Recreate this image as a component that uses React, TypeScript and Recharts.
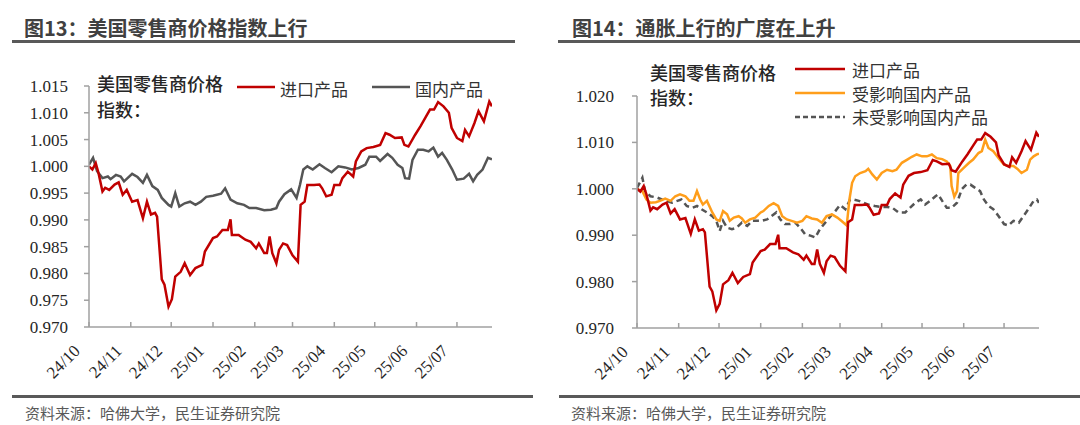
import { LineChart, Line, XAxis, YAxis } from 'recharts';

// x values are days counted from 2024-10-01
const monthTicks = [0, 31, 61, 92, 123, 151, 182, 212, 243, 273];
const monthLabels = ['24/10', '24/11', '24/12', '25/01', '25/02', '25/03', '25/04', '25/05', '25/06', '25/07'];

const leftTicks = [0.97, 0.975, 0.98, 0.985, 0.99, 0.995, 1.0, 1.005, 1.01, 1.015];
const rightTicks = [0.97, 0.98, 0.99, 1.0, 1.01, 1.02];

// 进口产品
const importedDays = [
  0, 2.5, 5, 7, 10, 12, 15, 19, 22, 25, 28, 32, 36, 40, 43, 46, 49, 50.5, 54, 56,
  59, 61.5, 64, 68, 71, 75, 79, 84, 86, 92, 95, 99, 103, 105, 106, 111, 116, 120, 124, 126,
  130, 132, 134, 136, 139, 141, 144, 147, 151, 155, 157, 160, 162, 167, 171, 173, 176, 180, 182, 186,
  188, 192, 196, 198, 202, 206, 211, 216, 220, 223, 227, 232, 234, 237, 242, 246, 250, 253, 256, 259,
  263, 267, 269, 273, 277, 279, 282, 286, 289, 293, 297, 299,
];
const importedValues = [
  1.0, 0.9994, 1.0006, 0.9988, 0.9953, 0.996, 0.9956, 0.9966, 0.997, 0.9947,
  0.9956, 0.9934, 0.9937, 0.9903, 0.9934, 0.991, 0.9913, 0.9906, 0.9789, 0.9779,
  0.9738, 0.9752, 0.9794, 0.9803, 0.9819, 0.9797, 0.981, 0.9816, 0.9841, 0.9866,
  0.9869, 0.9881, 0.9881, 0.9901, 0.9872, 0.9872, 0.9863, 0.9859, 0.9847, 0.9856,
  0.9838, 0.9838, 0.9869, 0.9838, 0.9819, 0.9844, 0.9856, 0.9853, 0.9834, 0.9822,
  0.9928, 0.9934, 0.9965, 0.9965, 0.9966, 0.9959, 0.9944, 0.9947, 0.9965, 0.9965,
  0.9978, 0.999, 0.9981, 1.0009, 1.0028, 1.0034, 1.0036, 1.004, 1.0062, 1.0059,
  1.0053, 1.0054, 1.004, 1.0037, 1.0059, 1.0075, 1.0093, 1.0106, 1.0106, 1.012,
  1.0112, 1.01, 1.0072, 1.0053, 1.0047, 1.0068, 1.0056, 1.0081, 1.0103, 1.0084,
  1.0121, 1.0112,
];

// 国内产品
const domesticDays = [
  0, 3, 6, 10, 14, 16, 20, 23.5, 26, 32, 36, 40, 43, 47, 51, 54, 59, 61, 64, 67,
  71, 75, 79, 83, 87, 92, 98, 101, 105, 110, 115, 119, 124, 130, 135, 139, 141, 145, 150, 154,
  156.5, 159, 162, 166, 171, 175, 180, 185, 190, 195, 200, 205, 208, 213, 216, 221.5, 225, 229, 232.5, 234.5,
  237.5, 240, 244, 248, 252, 255.5, 259, 262, 265.5, 269.5, 273, 278, 282, 285, 288, 292, 296, 299,
];
const domesticValues = [
  1.0003, 1.0016, 0.9991, 0.9978, 0.9981, 0.9976, 0.9984, 0.9981, 0.9972, 0.9986,
  0.998, 0.9969, 0.9984, 0.9963, 0.9956, 0.9941, 0.9928, 0.9925, 0.995, 0.9925,
  0.9931, 0.9934, 0.9928, 0.9934, 0.9943, 0.9945, 0.9949, 0.9959, 0.9938, 0.9931,
  0.9928, 0.9922, 0.9922, 0.9918, 0.9919, 0.9922, 0.9934, 0.9948, 0.9957, 0.9941,
  0.9965, 0.9994, 1.0, 0.9994, 1.0004, 0.9997, 0.9989, 1.0, 0.9998, 0.9994,
  0.9997, 1.0003, 1.0018, 1.0018, 1.001, 1.0023, 1.0016, 1.0003, 0.9997, 0.9978,
  0.9977, 1.0012, 1.0031, 1.0031, 1.0028, 1.0035, 1.0018, 1.0025, 1.0012, 0.9994,
  0.9975, 0.9977, 0.9986, 0.9972, 0.9984, 0.9994, 1.0016, 1.0013,
];

// 受影响国内产品
const affectedDays = [
  0, 4, 7, 10, 14, 17, 21, 25, 28.5, 32, 36, 39, 42, 44.6, 47, 49, 52, 56, 59, 61.5,
  64, 67, 69, 72, 75.6, 78, 80.5, 84, 88, 92, 94, 98, 101.6, 105, 108, 111.5, 115, 119, 123, 126,
  130, 134, 137.5, 141, 145, 149, 152.4, 156, 158, 160, 162.3, 166, 170, 172, 175, 178.4, 182, 186, 190, 193,
  197, 201, 204.4, 208, 212, 215.6, 219.3, 223, 227, 230.4, 233, 234, 236, 238, 239, 243, 247, 250, 254, 256.5,
  259, 261.4, 265, 269, 273, 276.3, 280, 283, 286, 290, 292.4, 295, 297.4, 299,
];
const affectedValues = [
  0.9999, 0.9995, 0.9977, 0.997, 0.9971, 0.9974, 0.9979, 0.9974, 0.9984, 0.9988,
  0.9984, 0.9974, 0.9974, 0.9995, 0.9977, 0.9966, 0.9974, 0.9949, 0.9934, 0.9931,
  0.9952, 0.9945, 0.9931, 0.9938, 0.9941, 0.9936, 0.9927, 0.9934, 0.9938, 0.9949,
  0.9952, 0.9963, 0.9969, 0.9963, 0.9941, 0.9934, 0.9931, 0.9927, 0.9931, 0.9941,
  0.9936, 0.9934, 0.9927, 0.9941, 0.9945, 0.9938, 0.993, 0.9921, 0.9977, 1.0013,
  1.0027, 1.0034, 1.0038, 1.0043, 1.0031, 1.002, 1.0034, 1.0041, 1.0038, 1.0041,
  1.0056, 1.0063, 1.0069, 1.0074, 1.007, 1.007, 1.0074, 1.0066, 1.0064, 1.0059,
  1.0049, 1.0006, 0.9983, 0.9995, 1.0034, 1.0045, 1.0056, 1.0063, 1.0077, 1.0081,
  1.0106, 1.0088, 1.0081, 1.0066, 1.0052, 1.0049, 1.0049, 1.0043, 1.0034, 1.0041,
  1.0063, 1.007, 1.0074, 1.0076,
];

// 未受影响国内产品
const unaffectedDays = [
  0, 4, 6, 10, 15, 18.5, 22, 26, 30, 33, 37, 41, 44.6, 48, 52, 56, 59, 61.5, 64, 67,
  70.6, 74, 78, 82, 85.5, 89, 93, 96.7, 100, 103.6, 106.6, 110, 114, 117.7, 121.4, 125, 129, 132.6, 136, 140,
  144, 147.5, 151, 155, 158.5, 161, 165, 168.5, 172, 177, 181, 186, 190, 194.5, 199.5, 203, 207, 211, 214.3, 218,
  222, 224, 227, 230.4, 234, 238, 241.6, 245, 248, 251.5, 255.2, 258, 261.4, 265, 269, 273, 276.3, 280, 284, 287.4,
  291, 295, 297.4, 299,
];
const unaffectedValues = [
  1.0002, 1.0024, 0.9995, 0.9984, 0.9981, 0.9977, 0.9974, 0.997, 0.9974, 0.9977,
  0.9963, 0.9959, 0.9963, 0.9956, 0.9949, 0.9941, 0.9931, 0.9909, 0.9931, 0.9916,
  0.9913, 0.9916, 0.9927, 0.992, 0.9931, 0.9931, 0.9931, 0.9934, 0.9941, 0.9949,
  0.9934, 0.9924, 0.9924, 0.9927, 0.9916, 0.9902, 0.9899, 0.9895, 0.9913, 0.9927,
  0.9941, 0.9952, 0.9965, 0.9956, 0.9977, 0.9977, 0.9974, 0.997, 0.9966, 0.9963,
  0.9961, 0.9961, 0.9959, 0.9949, 0.9949, 0.9959, 0.997, 0.9977, 0.9966, 0.9974,
  0.9984, 0.9988, 0.9974, 0.9959, 0.9959, 0.997, 0.9999, 1.0009, 1.0009, 1.0002,
  0.9995, 0.9977, 0.9963, 0.9956, 0.9941, 0.9924, 0.9921, 0.9931, 0.9927, 0.9941,
  0.9956, 0.9974, 0.9977, 0.997,
];

const toPoints = (days: number[], values: number[]) =>
  days.map((x, i) => ({ x, y: values[i] }));

const RED = '#c00000';
const GRAY = '#555555';
const ORANGE = '#ff9e1b';
const AXIS = '#a0a0a0';
const SERIF = '"Liberation Serif", "Times New Roman", serif';
const CJK = '"Noto Sans CJK SC", "Noto Sans", sans-serif';

function MonthTick(props: any) {
  const { x, y, payload } = props;
  const label = monthLabels[monthTicks.indexOf(payload.value)];
  const ax = x - 8;
  const ay = y + 25;
  return (
    <g>
      <line x1={x} y1={y} x2={x} y2={y - 5} stroke={AXIS} strokeWidth={1.5} />
      <text x={ax} y={ay} transform={`rotate(-45 ${ax} ${ay})`} textAnchor="end"
        fontSize={17} fontFamily={SERIF} fill="#262626">
        {label}
      </text>
    </g>
  );
}

const yTickStyle = { fontSize: 17, fontFamily: SERIF, fill: '#262626' };

function Text({ left, top, size, weight = 400, color = '#262626', children }: any) {
  return (
    <div style={{
      position: 'absolute', left, top, fontSize: size, lineHeight: 1, fontWeight: weight,
      color, fontFamily: CJK, whiteSpace: 'nowrap',
    }}>
      {children}
    </div>
  );
}

function Rule({ left, top, width }: any) {
  return <div style={{ position: 'absolute', left, top, width, height: 2.5, background: '#595959' }} />;
}

function Swatch({ left, top, width, color, dashed = false }: any) {
  return (
    <svg style={{ position: 'absolute', left, top: top - 3 }} width={width} height={6}>
      <line x1={0} y1={3} x2={width} y2={3} stroke={color} strokeWidth={2.5}
        strokeDasharray={dashed ? '5 3' : undefined} />
    </svg>
  );
}

export default function App() {
  const imported = toPoints(importedDays, importedValues);
  const domestic = toPoints(domesticDays, domesticValues);
  const affected = toPoints(affectedDays, affectedValues);
  const unaffected = toPoints(unaffectedDays, unaffectedValues);

  const xAxis = (
    <XAxis type="number" dataKey="x" domain={[0, 299]} ticks={monthTicks} interval={0}
      allowDataOverflow height={60} tickSize={0} tickMargin={0} tickLine={false}
      axisLine={{ stroke: AXIS, strokeWidth: 1.5 }} tick={<MonthTick />} />
  );

  return (
    <div style={{ position: 'fixed', left: 0, top: 0, width: 1080, height: 425, background: '#fff', overflow: 'hidden' }}>
      {/* left panel */}
      <Text left={24} top={18} size={20} weight={700} color="#404040">图13：美国零售商价格指数上行</Text>
      <Rule left={12} top={40} width={503} />
      <div style={{ position: 'absolute', left: 0, top: 0 }}>
        <LineChart width={540} height={425} margin={{ top: 86, right: 48, bottom: 38, left: 0 }}>
          {xAxis}
          <YAxis type="number" domain={[0.97, 1.015]} ticks={leftTicks} interval={0} allowDataOverflow
            width={89} tickSize={5} tickMargin={16} tick={yTickStyle}
            tickFormatter={(v: number) => v.toFixed(3)}
            axisLine={{ stroke: AXIS, strokeWidth: 1.5 }} tickLine={{ stroke: AXIS, strokeWidth: 1.5 }} />
          <Line data={domestic} dataKey="y" type="linear" stroke={GRAY} strokeWidth={2.5}
            dot={false} isAnimationActive={false} />
          <Line data={imported} dataKey="y" type="linear" stroke={RED} strokeWidth={2.5}
            dot={false} isAnimationActive={false} />
        </LineChart>
      </div>
      <Text left={97} top={74} size={18} weight={500}>美国零售商价格</Text>
      <Text left={97} top={100} size={18} weight={500}>指数：</Text>
      <Swatch left={237} top={87} width={38} color={RED} />
      <Text left={280} top={80} size={17} color="#333">进口产品</Text>
      <Swatch left={372} top={87} width={38} color={GRAY} />
      <Text left={415} top={80} size={17} color="#333">国内产品</Text>
      <Rule left={12} top={395} width={521} />
      <Text left={25} top={405} size={15} color="#595959">资料来源：哈佛大学，民生证券研究院</Text>

      {/* right panel */}
      <Text left={572} top={18} size={20} weight={700} color="#404040">图14：通胀上行的广度在上升</Text>
      <Rule left={558} top={40} width={522} />
      <div style={{ position: 'absolute', left: 540, top: 0 }}>
        <LineChart width={540} height={425} margin={{ top: 96, right: 41, bottom: 37, left: 0 }}>
          {xAxis}
          <YAxis type="number" domain={[0.97, 1.02]} ticks={rightTicks} interval={0} allowDataOverflow
            width={97} tickSize={5} tickMargin={18} tick={yTickStyle}
            tickFormatter={(v: number) => v.toFixed(3)}
            axisLine={{ stroke: AXIS, strokeWidth: 1.5 }} tickLine={{ stroke: AXIS, strokeWidth: 1.5 }} />
          <Line data={unaffected} dataKey="y" type="linear" stroke={GRAY} strokeWidth={2.5}
            strokeDasharray="6 4" dot={false} isAnimationActive={false} />
          <Line data={affected} dataKey="y" type="linear" stroke={ORANGE} strokeWidth={2.5}
            dot={false} isAnimationActive={false} />
          <Line data={imported} dataKey="y" type="linear" stroke={RED} strokeWidth={2.5}
            dot={false} isAnimationActive={false} />
        </LineChart>
      </div>
      <Text left={650} top={63} size={18} weight={500}>美国零售商价格</Text>
      <Text left={650} top={88} size={18} weight={500}>指数：</Text>
      <Swatch left={795} top={69} width={50} color={RED} />
      <Text left={852} top={61} size={17} color="#333">进口产品</Text>
      <Swatch left={795} top={93} width={50} color={ORANGE} />
      <Text left={852} top={85} size={17} color="#333">受影响国内产品</Text>
      <Swatch left={795} top={117} width={50} color={GRAY} dashed />
      <Text left={852} top={108} size={17} color="#333">未受影响国内产品</Text>
      <Rule left={559} top={395} width={521} />
      <Text left={571} top={405} size={15} color="#595959">资料来源：哈佛大学，民生证券研究院</Text>
    </div>
  );
}
